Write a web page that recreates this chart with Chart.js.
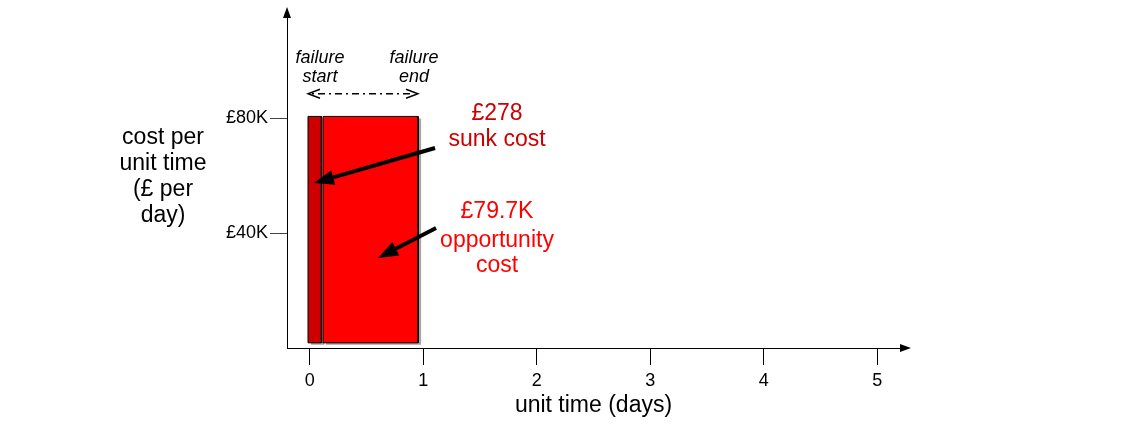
<!DOCTYPE html>
<html>
<head>
<meta charset="utf-8">
<script src="https://cdn.jsdelivr.net/npm/chart.js@4.4.1/dist/chart.umd.min.js"></script>
<style>
  html, body { margin: 0; padding: 0; background: #fff; }
  #wrap { width: 1123px; height: 425px; }
</style>
</head>
<body>
<div id="wrap"><canvas id="chart" width="1123" height="425"></canvas></div>
<script>
const FONT = '"Liberation Sans", Arial, sans-serif';

// cost blocks: start/end in days, bottom/top in £ per day
const sunkDays = [-0.015, 0.103];
const oppDays = [0.117, 0.955];
const costLevel = [1800, 80700];

const xTickValues = [0, 1, 2, 3, 4, 5];
const yTickValues = [40000, 80000];

const xTitle = 'unit time (days)';
const yTitle = ['cost per', 'unit time', '(£ per', 'day)'];
const sunkLabel = ['£278', 'sunk cost'];
const oppLabel = ['£79.7K', 'opportunity', 'cost'];
const startLabel = ['failure', 'start'];
const endLabel = ['failure', 'end'];

function block(days, level) {
  return [
    { x: days[0], y: level[0] },
    { x: days[0], y: level[1] },
    { x: days[1], y: level[1] },
    { x: days[1], y: level[0] },
    { x: days[0], y: level[0] }
  ];
}

// ---- helpers for the drawn annotations ----
function arrow(ctx, x1, y1, x2, y2, width, headLen, headW) {
  const a = Math.atan2(y2 - y1, x2 - x1);
  const bx = x2 - Math.cos(a) * headLen, by = y2 - Math.sin(a) * headLen;
  ctx.save();
  ctx.strokeStyle = '#000';
  ctx.fillStyle = '#000';
  ctx.lineWidth = width;
  ctx.beginPath();
  ctx.moveTo(x1, y1);
  ctx.lineTo(bx, by);
  ctx.stroke();
  ctx.beginPath();
  ctx.moveTo(x2, y2);
  ctx.lineTo(bx + Math.sin(a) * headW / 2, by - Math.cos(a) * headW / 2);
  ctx.lineTo(bx - Math.sin(a) * headW / 2, by + Math.cos(a) * headW / 2);
  ctx.closePath();
  ctx.fill();
  ctx.restore();
}

function lines(ctx, text, x, ys, font, color) {
  ctx.save();
  ctx.font = font;
  ctx.fillStyle = color;
  ctx.textAlign = 'center';
  ctx.textBaseline = 'middle';
  text.forEach((t, i) => ctx.fillText(t, x, ys[i]));
  ctx.restore();
}

function shadowOn(ctx) {
  ctx.shadowColor = '#a6a6a6';
  ctx.shadowOffsetX = 3;
  ctx.shadowOffsetY = 2;
  ctx.shadowBlur = 0;
}
function shadowOff(ctx) {
  ctx.shadowColor = 'rgba(0,0,0,0)';
  ctx.shadowOffsetX = 0;
  ctx.shadowOffsetY = 0;
}

// the fill is drawn by the filler before each dataset; only it gets a shadow
const shadowPlugin = {
  id: 'blockShadow',
  beforeDatasetsDraw(chart) { shadowOn(chart.ctx); },
  beforeDatasetDraw(chart) { shadowOff(chart.ctx); },
  afterDatasetDraw(chart) { shadowOn(chart.ctx); },
  afterDatasetsDraw(chart) { shadowOff(chart.ctx); }
};

const notesPlugin = {
  id: 'notes',
  afterDraw(chart) {
    const { ctx, chartArea: ca } = chart;
    const xs = chart.scales.x, ys = chart.scales.y;
    const X = v => xs.getPixelForValue(v);
    const Y = v => ys.getPixelForValue(v);

    // axis arrow heads
    ctx.save();
    ctx.fillStyle = '#000';
    ctx.beginPath();
    ctx.moveTo(ca.left, ca.top - 11);
    ctx.lineTo(ca.left - 4, ca.top);
    ctx.lineTo(ca.left + 4, ca.top);
    ctx.closePath();
    ctx.fill();
    ctx.beginPath();
    ctx.moveTo(ca.right + 11, ca.bottom);
    ctx.lineTo(ca.right, ca.bottom - 4);
    ctx.lineTo(ca.right, ca.bottom + 4);
    ctx.closePath();
    ctx.fill();
    ctx.restore();

    // y axis title, kept horizontal
    lines(ctx, yTitle, 163, [138, 164, 190, 216], '23px ' + FONT, '#000');

    // failure start / end markers
    const italic = 'italic 18px ' + FONT;
    lines(ctx, startLabel, X(0.09), [Y(101000), Y(94400)], italic, '#000');
    lines(ctx, endLabel, X(0.919), [Y(101000), Y(94400)], italic, '#000');

    const ay = Y(88600), ax1 = X(-0.015), ax2 = X(0.954);
    ctx.save();
    ctx.strokeStyle = '#000';
    ctx.lineWidth = 1.3;
    ctx.setLineDash([2, 4, 7, 4]);
    ctx.beginPath();
    ctx.moveTo(ax1 + 4, ay);
    ctx.lineTo(ax2 - 4, ay);
    ctx.stroke();
    ctx.setLineDash([]);
    ctx.lineWidth = 1.4;
    ctx.beginPath();
    ctx.moveTo(ax1 + 12, ay - 4.5);
    ctx.lineTo(ax1, ay);
    ctx.lineTo(ax1 + 12, ay + 4.5);
    ctx.moveTo(ax2 - 12, ay - 4.5);
    ctx.lineTo(ax2, ay);
    ctx.lineTo(ax2 - 12, ay + 4.5);
    ctx.stroke();
    ctx.restore();

    // cost labels
    const big = '23px ' + FONT;
    lines(ctx, sunkLabel, X(1.65), [Y(81600), Y(72500)], big, '#cc0000');
    lines(ctx, oppLabel, X(1.65), [Y(47400), Y(37300), Y(28600)], big, '#ff0000');

    // pointer arrows
    arrow(ctx, X(1.104), Y(69700), X(0.038), Y(57500), 4, 20, 15);
    arrow(ctx, X(1.113), Y(41800), X(0.602), Y(31400), 4, 20, 15);
  }
};

new Chart(document.getElementById('chart'), {
  type: 'scatter',
  data: {
    datasets: [
      {
        label: 'opportunity cost',
        data: block(oppDays, costLevel),
        showLine: true,
        fill: 'shape',
        backgroundColor: '#ff0000',
        borderColor: '#000',
        borderWidth: 1,
        pointRadius: 0,
        tension: 0
      },
      {
        label: 'sunk cost',
        data: block(sunkDays, costLevel),
        showLine: true,
        fill: 'shape',
        backgroundColor: '#cc0000',
        borderColor: '#000',
        borderWidth: 1,
        pointRadius: 0,
        tension: 0
      }
    ]
  },
  options: {
    responsive: false,
    animation: false,
    layout: { padding: { top: 18, right: 223, left: 0, bottom: 0 } },
    plugins: {
      legend: { display: false },
      tooltip: { enabled: false }
    },
    scales: {
      x: {
        type: 'linear',
        min: -0.2,
        max: 5.2,
        afterFit: s => { s.height = 77; },
        afterBuildTicks: s => { s.ticks = xTickValues.map(v => ({ value: v })); },
        grid: { drawOnChartArea: false, tickLength: 17, color: '#000' },
        border: { color: '#000', width: 1 },
        ticks: {
          color: '#000',
          padding: 5,
          maxRotation: 0,
          font: { family: FONT, size: 18 }
        },
        title: {
          display: true,
          text: xTitle,
          color: '#000',
          padding: { top: 0, bottom: 6 },
          font: { family: FONT, size: 23 }
        }
      },
      y: {
        type: 'linear',
        min: 0,
        max: 115000,
        afterFit: s => { s.width = 287; },
        afterBuildTicks: s => { s.ticks = yTickValues.map(v => ({ value: v })); },
        grid: { drawOnChartArea: false, tickLength: 17, color: '#444' },
        border: { color: '#000', width: 1 },
        ticks: {
          color: '#000',
          padding: 2,
          font: { family: FONT, size: 18 },
          callback: v => '£' + (v / 1000) + 'K'
        }
      }
    }
  },
  plugins: [shadowPlugin, notesPlugin]
});
</script>
</body>
</html>
